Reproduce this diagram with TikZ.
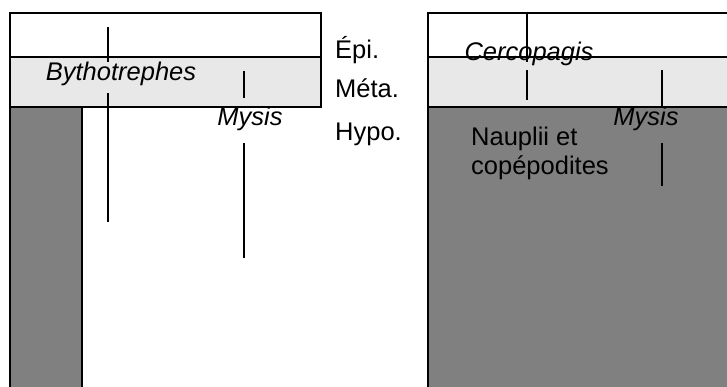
\documentclass[tikz,border=0pt]{standalone}
\usepackage{fontspec}
\setmainfont{Liberation Sans}
\definecolor{metagray}{HTML}{E8E8E8}
\definecolor{hypogray}{HTML}{808080}
\tikzset{
  band/.style={draw=black, line width=1.4pt},
  marker/.style={draw=black, line width=1.4pt},
  lbl/.style={inner sep=0pt, font=\fontsize{25.5}{29}\selectfont},
  taxon/.style={lbl, anchor=base, font=\fontsize{25.5}{29}\selectfont\itshape},
}
\begin{document}
\begin{tikzpicture}[x=1pt, y=-1pt]
\useasboundingbox (0,0) rectangle (727,386);
\begin{scope}
\clip (0,0) rectangle (727,386);
% left column: epilimnion, metalimnion, deep refuge
\path[band, fill=white] (10,13) rectangle (321,57);
\path[band, fill=metagray] (10,57) rectangle (321,107);
\path[band, fill=hypogray] (10,107) rectangle (82,400);
% right column
\path[band, fill=white] (428,13) rectangle (740,57);
\path[band, fill=metagray] (428,57) rectangle (740,107);
\path[band, fill=hypogray] (428,107) rectangle (740,400);
\end{scope}

% layer names
\node[lbl, anchor=base west] (epi) at (335,58) {Épi.};
\node[lbl, anchor=base west] (meta) at (335,97) {Méta.};
\node[lbl, anchor=base west] (hypo) at (335,140) {Hypo.};

% taxa labels
\node[taxon] (byth) at (121,80) {Bythotrephes};
\node[taxon] (mysisL) at (250,125) {Mysis};
\node[taxon] (cerco) at (529,60) {Cercopagis};
\node[taxon] (mysisR) at (646,125) {Mysis};
\node[lbl, anchor=base west, align=left] (naup) at (471,174) {Nauplii et\\copépodites};

% vertical ranges
\coordinate (b1) at (108,27);  \coordinate (b2) at (108,62);
\coordinate (b3) at (108,93);  \coordinate (b4) at (108,222);
\coordinate (m1) at (244,71);  \coordinate (m2) at (244,98);
\coordinate (m3) at (244,143); \coordinate (m4) at (244,258);
\coordinate (c1) at (527,13);  \coordinate (c2) at (527,62);
\coordinate (c3) at (527,70);  \coordinate (c4) at (527,100);
\coordinate (r1) at (662,70);  \coordinate (r2) at (662,107);
\coordinate (r3) at (662,143); \coordinate (r4) at (662,186);
\draw[marker] (b1) -- (b2) (b3) -- (b4);
\draw[marker] (m1) -- (m2) (m3) -- (m4);
\draw[marker] (c1) -- (c2) (c3) -- (c4);
\draw[marker] (r1) -- (r2) (r3) -- (r4);
\end{tikzpicture}
\end{document}
